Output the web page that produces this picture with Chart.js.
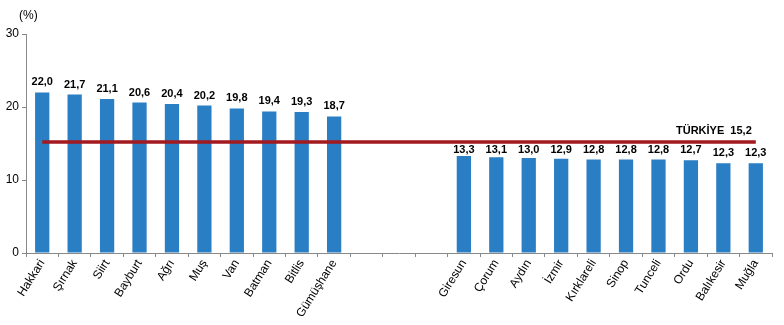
<!DOCTYPE html>
<html>
<head>
<meta charset="utf-8">
<script src="https://cdn.jsdelivr.net/npm/chart.js@4.4.1/dist/chart.umd.min.js"></script>
<style>
  body { margin: 0; background: #fff; }
</style>
</head>
<body>
<canvas id="grafik" width="784" height="325"></canvas>
<script>
// iller ve oranlar (%)
const iller = ["Hakkari", "Şırnak", "Siirt", "Bayburt", "Ağrı", "Muş", "Van", "Batman", "Bitlis", "Gümüşhane",
  "", "", "",
  "Giresun", "Çorum", "Aydın", "İzmir", "Kırklareli", "Sinop", "Tunceli", "Ordu", "Balıkesir", "Muğla"];
const oranlar = [22.0, 21.7, 21.1, 20.6, 20.4, 20.2, 19.8, 19.4, 19.3, 18.7,
  null, null, null,
  13.3, 13.1, 13.0, 12.9, 12.8, 12.8, 12.8, 12.7, 12.3, 12.3];
const turkiye = 15.2;
const turkiyeCizgi = iller.map(() => turkiye);
const yTicks = [0, 10, 20, 30];

const fmt = v => v.toFixed(1).replace(".", ",");

const etiketler = {
  id: "etiketler",
  afterDatasetsDraw(chart) {
    const ctx = chart.ctx;
    const meta = chart.getDatasetMeta(1);
    const lineY = chart.scales.y.getPixelForValue(turkiye);
    ctx.save();
    ctx.fillStyle = "#000";
    ctx.font = "bold 11px 'Liberation Sans', Arial, sans-serif";
    ctx.textAlign = "center";
    ctx.textBaseline = "alphabetic";
    meta.data.forEach((bar, i) => {
      if (oranlar[i] == null) return;
      let by = bar.y - 7;
      // cizginin altindaysa etiketi cizgiye carptirma
      if (bar.y > lineY && by < lineY + 11) by = lineY + 11;
      ctx.fillText(fmt(oranlar[i]), bar.x, by);
    });
    // Türkiye etiketi
    const x = chart.scales.x.getPixelForValue(iller.length - 1);
    ctx.textAlign = "right";
    ctx.fillText("TÜRKİYE  " + fmt(turkiye), x - 4, lineY - 8);
    // (%)
    ctx.font = "12px 'Liberation Sans', Arial, sans-serif";
    ctx.textAlign = "left";
    ctx.textBaseline = "middle";
    ctx.fillText("(%)", 19, 16);
    ctx.restore();
  }
};

new Chart(document.getElementById("grafik"), {
  data: {
    labels: iller,
    datasets: [{
        type: "line",
        data: turkiyeCizgi,
        borderColor: "#A2191F",
        borderWidth: 3.5,
        pointRadius: 0,
        fill: false,
        order: 0
      }, {
        type: "bar",
        data: oranlar,
        backgroundColor: "#2A7EC4",
        barPercentage: 0.44,
        categoryPercentage: 1,
        order: 1
      }]
  },
  options: {
    responsive: false,
    animation: false,
    layout: { padding: { top: 34, right: 12, left: 4, bottom: 0 } },
    plugins: {
      legend: { display: false },
      title: { display: false },
      tooltip: { enabled: false }
    },
    scales: {
      x: {
        offset: true,
        grid: { display: true, drawOnChartArea: false, offset: true, tickLength: 4, color: "#888" },
        border: { color: "#888" },
        ticks: {
          autoSkip: false,
          maxRotation: 58,
          minRotation: 58,
          color: "#000",
          padding: 0,
          font: { family: "'Liberation Sans', Arial, sans-serif", size: 12 }
        },
        afterFit(scale) { scale.height = 72; }
      },
      y: {
        min: 0,
        max: 30,
        afterBuildTicks(scale) { scale.ticks = yTicks.map(v => ({ value: v })); },
        grid: { display: true, drawOnChartArea: false, tickLength: 4, color: "#888" },
        border: { color: "#888" },
        ticks: {
          color: "#000",
          padding: 3,
          font: { family: "'Liberation Sans', Arial, sans-serif", size: 12 }
        },
        afterFit(scale) { scale.width = 22; }
      }
    }
  },
  plugins: [etiketler]
});
</script>
</body>
</html>
